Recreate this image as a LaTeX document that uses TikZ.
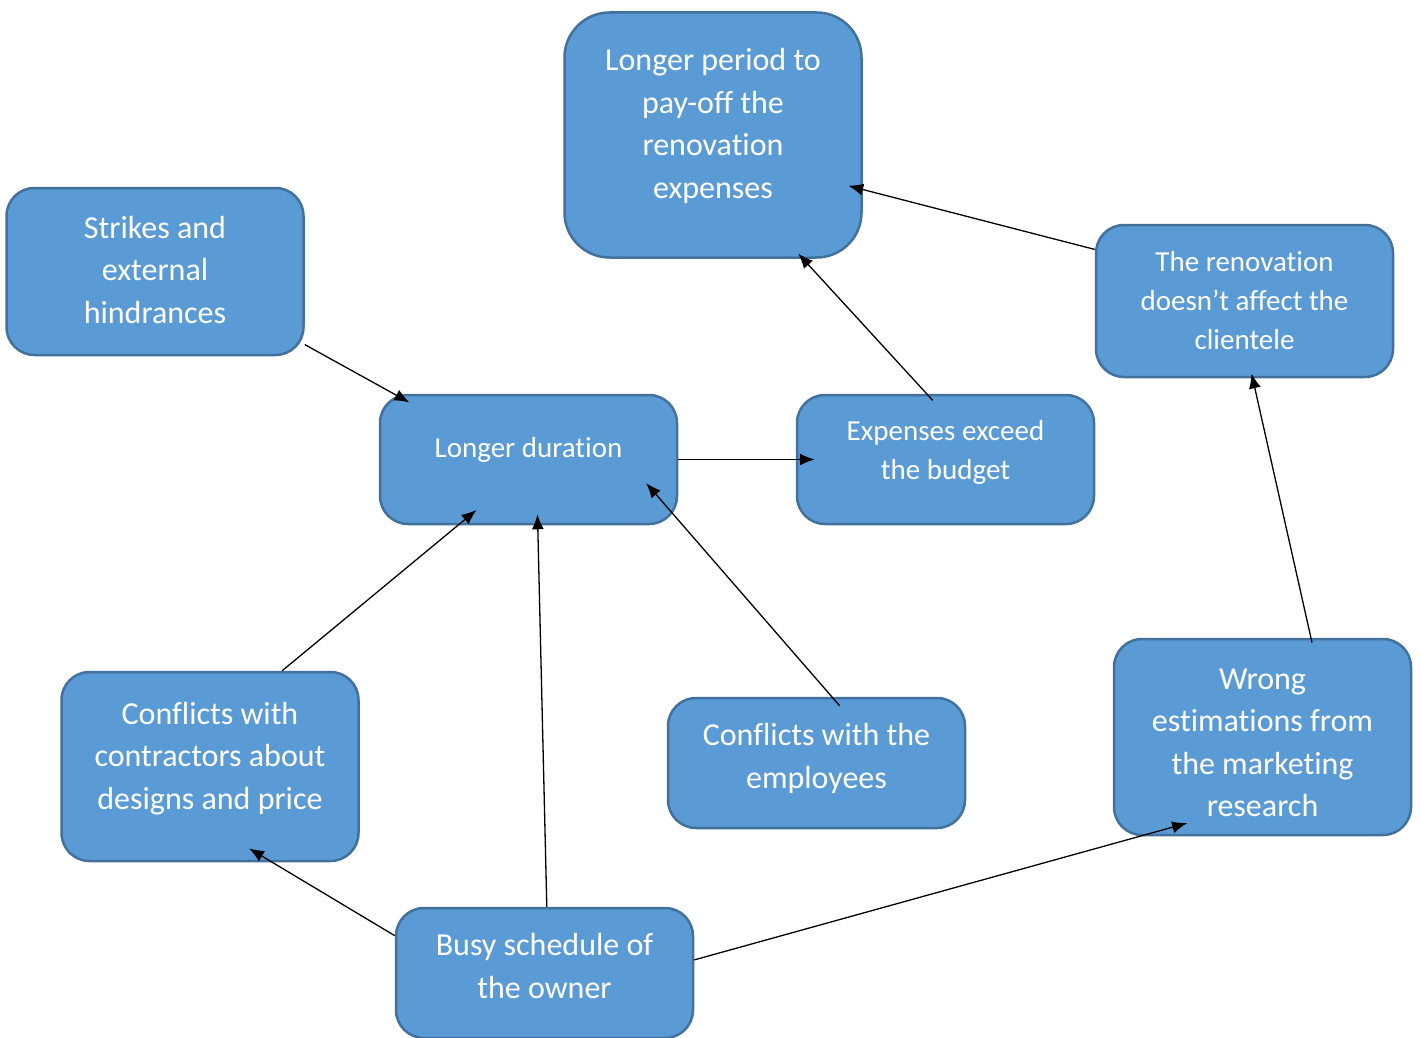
\documentclass[tikz,border=0pt]{standalone}
\usepackage{fontspec}
\setmainfont{Carlito}[Ligatures=NoCommon]
\usetikzlibrary{arrows.meta}

\definecolor{boxfill}{HTML}{5B9BD5}
\definecolor{boxline}{HTML}{41719C}

\begin{document}
\begin{tikzpicture}[x=1pt,y=-1pt,
    arr/.style={-{Latex[length=15pt,width=12pt]},line width=1.3pt,black},
    box/.style={rectangle,draw=boxline,fill=boxfill,line width=2.5pt,rounded corners=28pt,
      minimum width=297pt,inner sep=0pt},
    big text/.style={text=white,align=center,inner sep=0pt,font=\fontsize{32}{42.5}\selectfont},
    small text/.style={text=white,align=center,inner sep=0pt,font=\fontsize{29}{39}\selectfont}]

  \useasboundingbox (0,0) rectangle (1421,1038);

  \node[box,rounded corners=45pt,minimum height=245pt,
    label={[big text,yshift=9pt]center:{Longer period to\\pay-off the\\renovation\\expenses}}]
    (payoff) at (713,135) {};
  \node[box,minimum height=167pt,
    label={[big text,yshift=1.5pt]center:{Strikes and\\external\\hindrances}}]
    (strikes) at (155,271.5) {};
  \node[box,minimum height=152pt,
    label={[small text,yshift=0.5pt]center:{The renovation\\doesn’t affect the\\clientele}}]
    (clientele) at (1244.5,301) {};
  \node[box,minimum height=129pt,
    label={[small text,yshift=10pt]center:{Longer duration}}]
    (duration) at (528.5,459.5) {};
  \node[box,minimum height=129pt,
    label={[small text,yshift=7pt]center:{Expenses exceed\\the budget}}]
    (budget) at (945.5,459.5) {};
  \node[box,minimum height=189pt,
    label={[big text,yshift=8pt]center:{Conflicts with\\contractors about\\designs and price}}]
    (contractors) at (210,766.5) {};
  \node[box,minimum height=130pt,
    label={[big text,yshift=4.5pt]center:{Conflicts with the\\employees}}]
    (employees) at (816.5,763) {};
  \node[box,minimum height=196pt,
    label={[big text,yshift=-6pt]center:{Wrong\\estimations from\\the marketing\\research}}]
    (marketing) at (1262.5,737) {};
  \node[box,minimum height=130pt,
    label={[big text,yshift=7pt]center:{Busy schedule of\\the owner}}]
    (owner) at (544.5,973) {};

  % causes and effects
  \draw[arr,shorten >=-18pt] (strikes.-26) -- (duration.154.5);
  \draw[arr,shorten >=-19pt] (duration.east) -- (budget.west);
  \draw[arr,shorten >=-7pt,shorten <=-9pt] (budget.106.7) -- (payoff.-54);
  \draw[arr,shorten >=-15pt] (clientele.161.5) -- (payoff.-20.9);
  \draw[arr,shorten >=-24pt] (contractors.53) -- (duration.223.6);
  \draw[arr,shorten >=-11pt] (owner.88.6) -- (duration.-82.4);
  \draw[arr,shorten >=-49pt,shorten <=-12pt] (employees.77.9) -- (duration.-22.7);
  \draw[arr,shorten >=-5pt,shorten <=-5pt] (marketing.64.3) -- (clientele.-84.4);
  \draw[arr,shorten >=-27pt] (owner.166.6) -- (contractors.-57.4);
  \draw[arr,shorten >=-49pt] (owner.5) -- (marketing.-141.5);
\end{tikzpicture}
\end{document}
